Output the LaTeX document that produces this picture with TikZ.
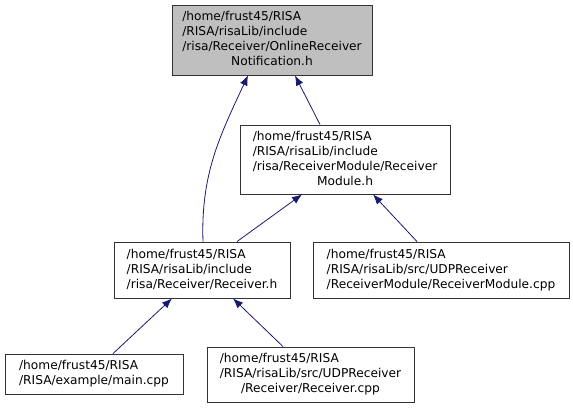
\documentclass[tikz,border=0pt]{standalone}
\usepackage{fontspec}
\setmainfont{DejaVu Sans}
\usetikzlibrary{arrows.meta}
\definecolor{edgeblue}{HTML}{191970}
\definecolor{boxgray}{HTML}{BFBFBF}
\definecolor{boxline}{HTML}{333333}
\begin{document}
\begin{tikzpicture}[x=1pt,y=-1pt,
  box/.style={draw=boxline,line width=0.9pt,fill=white,inner sep=0pt,anchor=center,
    font=\fontsize{12.2}{15}\selectfont},
  edge/.style={draw=edgeblue,line width=0.8pt,-{Latex[length=10pt,width=8pt]}}]
\useasboundingbox (0,0) rectangle (573,408);
\node[box,fill=boxgray,minimum width=200pt,minimum height=70pt] (A) at (272,40)
  {\begin{tabular}{@{}l@{}}/home/frust45/RISA\\/RISA/risaLib/include\\/risa/Receiver/OnlineReceiver\\\multicolumn{1}{@{}c@{}}{Notification.h}\end{tabular}};
\node[box,minimum width=210pt,minimum height=69pt] (B) at (345,159.5)
  {\begin{tabular}{@{}l@{}}/home/frust45/RISA\\/RISA/risaLib/include\\/risa/ReceiverModule/Receiver\\\multicolumn{1}{@{}c@{}}{Module.h}\end{tabular}};
\node[box,minimum width=176pt,minimum height=56pt] (C) at (202,270)
  {\begin{tabular}{@{}l@{}}/home/frust45/RISA\\/RISA/risaLib/include\\/risa/Receiver/Receiver.h\end{tabular}};
\node[box,minimum width=256pt,minimum height=56pt] (D) at (441,270)
  {\begin{tabular}{@{}l@{}}/home/frust45/RISA\\/RISA/risaLib/src/UDPReceiver\\/ReceiverModule/ReceiverModule.cpp\end{tabular}};
\node[box,minimum width=178pt,minimum height=40pt] (E) at (94,374)
  {\begin{tabular}{@{}l@{}}/home/frust45/RISA\\/RISA/example/main.cpp\end{tabular}};
\node[box,minimum width=207pt,minimum height=55pt] (F) at (310.5,374.5)
  {\begin{tabular}{@{}l@{}}/home/frust45/RISA\\/RISA/risaLib/src/UDPReceiver\\\multicolumn{1}{@{}c@{}}{/Receiver/Receiver.cpp}\end{tabular}};
\draw[edge] ([xshift=1pt]C.north) to[out=92,in=245] ([xshift=-24pt]A.south);
\draw[edge] ([xshift=-25pt]B.north) -- ([xshift=23pt]A.south);
\draw[edge] ([xshift=35pt]C.north) -- ([xshift=-43pt]B.south);
\draw[edge] ([xshift=-24pt]D.north) -- ([xshift=28pt]B.south);
\draw[edge] ([xshift=19pt]E.north) -- ([xshift=-30pt]C.south);
\draw[edge] ([xshift=-27.5pt]F.north) -- ([xshift=31pt]C.south);
\end{tikzpicture}
\end{document}
